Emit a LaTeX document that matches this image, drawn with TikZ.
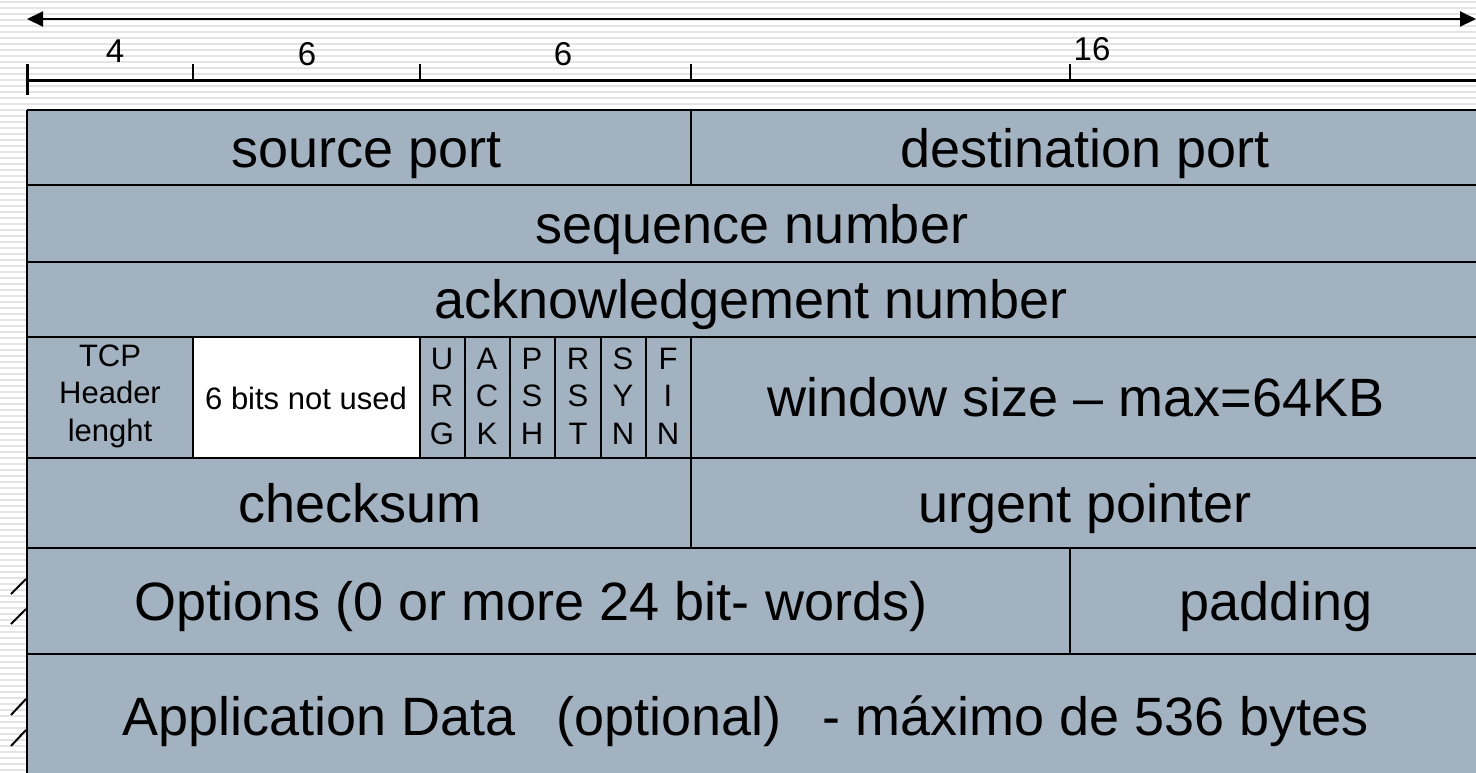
\documentclass[tikz,border=0pt]{standalone}
\usepackage{fontspec}
\setmainfont{Liberation Sans}
\usetikzlibrary{arrows.meta}
\definecolor{cellfill}{RGB}{163,178,193}
\definecolor{stripe}{RGB}{228,228,228}
\tikzset{
  big/.style={font=\fontsize{54}{60}\selectfont, inner sep=0pt, anchor=base},
  small/.style={font=\fontsize{31}{37.5}\selectfont, align=center, inner sep=0pt},
  num/.style={font=\fontsize{33}{38}\selectfont, inner sep=0pt},
  rule/.style={line width=2.5pt, black},
  scaleline/.style={line width=3pt, black},
  tip/.style={{Triangle[length=16pt,width=15pt]}-{Triangle[length=16pt,width=15pt]}, line width=2pt},
  slash/.style={line width=2pt, black}
}
\begin{document}
\begin{tikzpicture}[x=1pt,y=-1pt]
\useasboundingbox (0,0) rectangle (1476,772);
\clip (0,0) rectangle (1476,772);
% striped background
\fill[white] (0,0) rectangle (1476,772);
\foreach \y in {2,8,...,770} \draw[stripe, line width=2.2pt] (0,\y) -- (1476,\y);
% top arrow
\coordinate (al) at (27,19);
\coordinate (ar) at (1476,19);
\draw[tip] (al) -- (ar);
% scale
\coordinate (s0) at (27,80);
\coordinate (s1) at (1480,80);
\draw[scaleline] (s0) -- (s1);
\draw[scaleline] (27,64) -- (27,95);
\foreach \x in {193,420,691,1070} \draw[line width=2.5pt] (\x,64) -- (\x,80);
\node[num] (n4) at (115,51) {4};
\node[num] (n6a) at (307,54) {6};
\node[num] (n6b) at (563,54) {6};
\node[num] (n16) at (1092,49) {16};
% table fill
\fill[cellfill] (27,110) rectangle (1490,800);
\fill[white] (193,337) rectangle (420,458);
% horizontal rules
\draw[rule] (27,110) -- (1490,110);
\foreach \y in {185,262,337,458,548,654} \draw[rule] (27,\y) -- (1490,\y);
\draw[rule] (27,110) -- (27,800);
% vertical rules
\draw[rule] (691,110) -- (691,185);
\foreach \x in {193,420,465,510,555,601,646,691} \draw[rule] (\x,337) -- (\x,458);
\draw[rule] (691,458) -- (691,548);
\draw[rule] (1070,548) -- (1070,654);
% texts
\node[big] (sp) at (367,167) {source port};
\node[big] (dp) at (1085,167) {destination port};
\node[big] (sn) at (752,243) {sequence number};
\node[big] (an) at (751,318) {acknowledgement number};
\node[small] (hl) at (110,396) {TCP\\Header\\lenght};
\node[small] (nu) at (306,398) {6 bits not used};
\node[small] (urg) at (442,396) {U\\R\\G};
\node[small] (ack) at (487,396) {A\\C\\K};
\node[small] (psh) at (532,396) {P\\S\\H};
\node[small] (rst) at (578,396) {R\\S\\T};
\node[small] (syn) at (623,396) {S\\Y\\N};
\node[small] (fin) at (668,396) {F\\I\\N};
\node[big] (ws) at (1076,416) {window size -- max=64KB};
\node[big] (cs) at (360,522) {checksum};
\node[big] (up) at (1085,522) {urgent pointer};
\node[big] (op) at (531,620) {Options (0 or more 24 bit-\hspace{0.3em}words)};
\node[big] (pd) at (1276,620) {padding};
\node[big] (ad) at (746,735) {Application Data\ \ \hspace{0.2em}(optional)\ \ \hspace{0.2em}- máximo de 536 bytes};
% slash marks
\draw[slash] (11,594) -- (26,579);
\draw[slash] (11,624) -- (26,609);
\draw[slash] (11,715) -- (26,699);
\draw[slash] (11,746) -- (26,730);
\end{tikzpicture}
\end{document}
